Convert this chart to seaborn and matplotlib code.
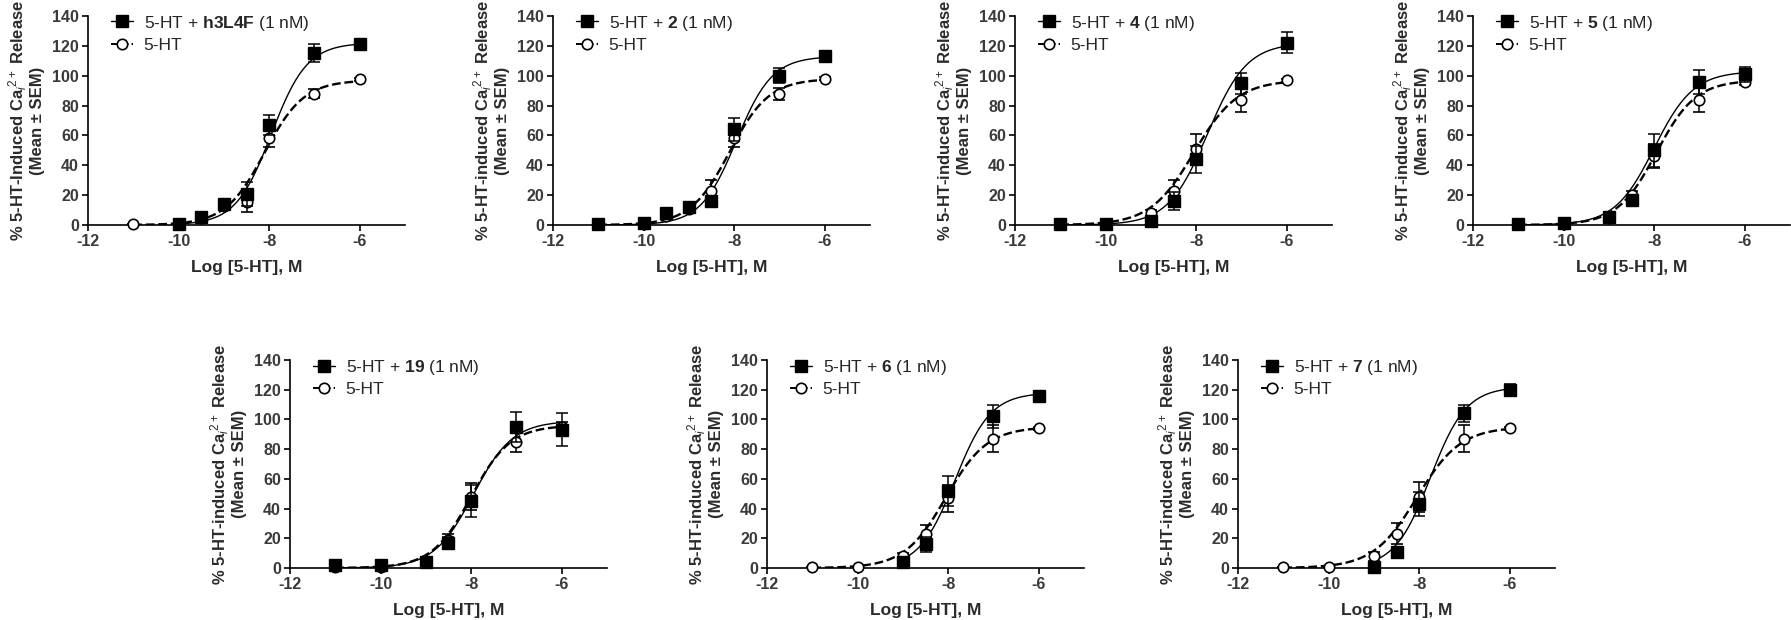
import numpy as np
import matplotlib
matplotlib.use("Agg")
from matplotlib import pyplot as plt
from matplotlib.lines import Line2D
import seaborn as sns

# log concentration of 5-HT, shared by all panels
log_conc = [-11, -10, -9.5, -9, -8.5, -8, -7, -6]

compounds = ["h3L4F", "2", "4", "5", "19", "6", "7"]

# mean responses (nan = no point drawn)
nan = np.nan
drug_mean = [
    [nan, 1, 5.5, 14, 21, 67, 115, 121],
    [1, 1.5, 8, 12, 16, 64, 100, 113],
    [1, 1, nan, 3, 16, 44, 95, 122],
    [1, 1.5, nan, 5.5, 17, 50, 96, 101],
    [2, 2, nan, 4, 17, 45, 95, 93],
    [nan, nan, nan, 4, 16, 52, 102, 116],
    [nan, nan, nan, 1, 11, 43, 104, 120],
]
drug_sem = [
    [0, 1, 1.5, 3, 8, 7, 6, 3],
    [0, 1, 2, 2, 3, 8, 5, 2],
    [0, 1, 0, 1, 6, 9, 7, 7],
    [0, 1, 0, 1, 3, 11, 8, 5],
    [0, 1, 0, 1, 4, 11, 10, 11],
    [0, 0, 0, 2, 5, 10, 8, 2],
    [0, 0, 0, 1, 2, 8, 6, 4],
]
ctrl_mean = [
    [0.5, 1, 5, 13, 15.5, 58.5, 88, 97.5],
    [0.5, 1, 6, 11, 23, 58, 87.5, 98],
    [0.5, 0.5, nan, 8, 23, 51, 84, 97],
    [0.5, 0.5, nan, 5, 20, 46, 84, 96],
    [1, 1, nan, 5, 19, 48, 85, 95],
    [0.5, 1, nan, 8, 23, 47, 87, 94],
    [0.5, 1, nan, 8, 23, 48, 87, 94],
]
ctrl_sem = [
    [0, 0, 1, 2, 7, 6, 3, 1],
    [0, 0, 1, 2, 7, 6, 4, 1],
    [0, 0, 0, 2, 7, 10, 8, 1],
    [0, 0, 0, 1, 3, 8, 8, 2],
    [0, 0, 0, 2, 4, 9, 7, 3],
    [0, 0, 0, 2, 6, 9, 9, 1],
    [0, 0, 0, 3, 7, 10, 9, 1],
]

# sigmoidal fit parameters: top, logEC50, hill slope
drug_top = [122, 113, 122, 103, 99, 118, 122]
drug_ec50 = [-7.95, -7.95, -7.75, -8.0, -7.95, -7.85, -7.75]
drug_hill = [1.1, 1.1, 1.0, 1.0, 1.0, 1.1, 1.1]
ctrl_top = [97, 98, 97, 97, 96, 95, 95]
ctrl_ec50 = [-8.1, -8.1, -8.05, -7.95, -8.0, -8.05, -8.05]
ctrl_hill = [1.0, 1.0, 0.9, 1.0, 1.0, 0.95, 0.9]

x_ticks = [-12, -10, -8, -6]
y_ticks = [0, 20, 40, 60, 80, 100, 120, 140]

sns.set_theme(style="ticks")
plt.rcParams["font.family"] = ["Liberation Sans", "DejaVu Sans"]
plt.rcParams["mathtext.fontset"] = "custom"
plt.rcParams["mathtext.rm"] = "Liberation Sans"
plt.rcParams["mathtext.it"] = "Liberation Sans:italic"
plt.rcParams["mathtext.bf"] = "Liberation Sans:bold"

W, H = 1791, 620
fig = plt.figure(figsize=(W / 100, H / 100), dpi=100)

# axes boxes in pixels: left, top(140), width, height
top_lefts = [88, 553, 1015, 1473]
bot_lefts = [290, 767, 1238]
boxes = [(l, 16, 317, 209) for l in top_lefts] + [(l, 360, 317, 208) for l in bot_lefts]


def hill(x, top, ec50, slope):
    return top / (1 + 10 ** ((ec50 - x) * slope))


text_col = "#2b2b2b"
for i, (l, t, w, h) in enumerate(boxes):
    ax = fig.add_axes([l / W, 1 - (t + h) / H, w / W, h / H])
    x = np.array(log_conc, dtype=float)

    for mean, sem, top, ec, sl, style in [
        (ctrl_mean[i], ctrl_sem[i], ctrl_top[i], ctrl_ec50[i], ctrl_hill[i], "--"),
        (drug_mean[i], drug_sem[i], drug_top[i], drug_ec50[i], drug_hill[i], "-"),
    ]:
        m = np.array(mean, dtype=float)
        ok = ~np.isnan(m)
        xs = np.linspace(x[ok].min(), x[ok].max(), 200)
        sns.lineplot(x=xs, y=hill(xs, top, ec, sl), ax=ax, color="black",
                     linestyle=style, lw=1.7 if style == "--" else 1.0)
        if style == "--":
            ax.errorbar(x[ok], m[ok], yerr=np.array(sem)[ok], fmt="o", ms=7.5,
                        mfc="white", mec="black", mew=1.2, ecolor="black",
                        elinewidth=1.1, capsize=4, capthick=1.1, zorder=3,
                        clip_on=False)
        else:
            ax.errorbar(x[ok], m[ok], yerr=np.array(sem)[ok], fmt="s", ms=9,
                        mfc="black", mec="black", ecolor="black",
                        elinewidth=1.1, capsize=4, capthick=1.1, zorder=4,
                        clip_on=False)

    ax.set_xlim(-12, -5)
    ax.set_ylim(0, 140)
    ax.set_xticks(x_ticks)
    ax.set_yticks(y_ticks)
    ax.set_xticklabels([str(v) for v in x_ticks])
    ax.tick_params(labelsize=11.5, width=1.2, length=4, colors="black",
                   labelcolor="#3a3a3a", pad=2.5)
    for lab in ax.get_xticklabels() + ax.get_yticklabels():
        lab.set_fontweight("bold")
    sns.despine(ax=ax)
    for sp in ["left", "bottom"]:
        ax.spines[sp].set_linewidth(1.2)
        ax.spines[sp].set_color("black")

    ax.set_xlabel("Log [5-HT], M", fontsize=12.5, fontweight="bold",
                  color=text_col, labelpad=8)
    induced = "Induced" if i == 0 else "induced"
    ax.set_ylabel("% 5-HT-" + induced + r" Ca$_i$$^{2+}$ Release" + "\n(Mean ± SEM)",
                  fontsize=12, fontweight="bold", color=text_col, labelpad=5,
                  linespacing=1.1)

    handles = [
        Line2D([], [], color="black", marker="s", ms=9, ls="-", lw=1.0),
        Line2D([], [], color="black", marker="o", ms=7.5, mfc="white", mew=1.2,
               ls="--", lw=1.4),
    ]
    labels = [r"5-HT + $\mathbf{" + compounds[i] + "}$ (1 nM)", "5-HT"]
    ax.legend(handles, labels, loc="upper left", bbox_to_anchor=(0.05, 1.045),
              frameon=False, fontsize=12.5, handlelength=1.3, handletextpad=0.6,
              labelspacing=0.3, borderaxespad=0)

fig.savefig("out.png", dpi=100)
